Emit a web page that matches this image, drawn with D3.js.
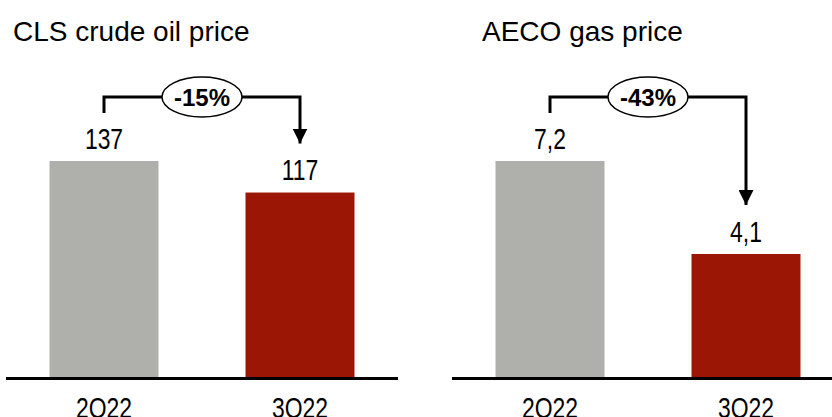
<!DOCTYPE html>
<html>
<head>
<meta charset="utf-8">
<script src="https://cdn.jsdelivr.net/npm/d3@7"></script>
<style>
  body { margin: 0; background: #fff; }
  svg { display: block; }
  text { font-family: "Liberation Sans", Arial, sans-serif; fill: #000; }
</style>
</head>
<body>
<div id="chart"></div>
<script>
// data
var quarters = ["2Q22", "3Q22"];
var oilPrice = [137, 117];
var gasPrice = [7.2, 4.1];
var oilChange = "-15%";
var gasChange = "-43%";
var titles = ["CLS crude oil price", "AECO gas price"];

var width = 832, height = 417;
var baseY = 377;      // bottom of bars
var topY = 161;       // top of tallest bar
var squeeze = 0.79;   // labels in the source are narrower than Arial

var svg = d3.select('#chart').append('svg')
    .attr('width', width)
    .attr('height', height);

var fmt = d3.formatLocale({decimal: ",", thousands: ".", grouping: [3], currency: ["", ""]});

var colors = ['#AFB0AB', '#9C1606'];

svg.append('defs').append('marker')
    .attr('id', 'arrow')
    .attr('viewBox', '0 0 10 10')
    .attr('refX', 10).attr('refY', 5)
    .attr('markerUnits', 'userSpaceOnUse')
    .attr('markerWidth', 15).attr('markerHeight', 15)
    .attr('orient', 'auto')
  .append('path')
    .attr('d', 'M0,0 L10,5 L0,10 Z')
    .attr('fill', '#000');

function panel(x0, title, titleX, values, change, labelFmt) {
    var g = svg.append('g');

    var x = d3.scaleBand()
        .domain(quarters)
        .range([x0, x0 + 392])
        .paddingInner(0.444)
        .paddingOuter(0.222);

    var y = d3.scaleLinear()
        .domain([0, d3.max(values)])
        .range([baseY, topY]);

    var mid = function(q) { return x(q) + x.bandwidth() / 2; };

    g.append('text')
        .attr('x', titleX)
        .attr('y', 41)
        .style('font-size', '28px')
        .text(title);

    g.selectAll('rect')
        .data(values)
        .enter().append('rect')
            .attr('x', function(d, i) { return x(quarters[i]); })
            .attr('y', function(d) { return y(d); })
            .attr('width', x.bandwidth())
            .attr('height', function(d) { return baseY - y(d); })
            .attr('fill', function(d, i) { return colors[i]; });

    g.selectAll('.val')
        .data(values)
        .enter().append('text')
            .attr('class', 'val')
            .attr('transform', function(d, i) {
                return 'translate(' + mid(quarters[i]) + ',' + (y(d) - 12.5) + ') scale(' + squeeze + ',1)';
            })
            .attr('text-anchor', 'middle')
            .style('font-size', '29px')
            .text(function(d) { return labelFmt(d); });

    // baseline
    g.append('line')
        .attr('x1', x0).attr('x2', x0 + 392)
        .attr('y1', baseY + 1.5).attr('y2', baseY + 1.5)
        .attr('stroke', '#000')
        .attr('stroke-width', 3);

    g.selectAll('.cat')
        .data(quarters)
        .enter().append('text')
            .attr('class', 'cat')
            .attr('transform', function(d) {
                return 'translate(' + mid(d) + ',418) scale(' + squeeze + ',1)';
            })
            .attr('text-anchor', 'middle')
            .style('font-size', '29px')
            .text(function(d) { return d; });

    // change bracket
    var xa = mid(quarters[0]);
    var xb = mid(quarters[1]);
    var yTop = 97;
    g.append('path')
        .attr('d', 'M' + xa + ',' + (y(values[0]) - 48) + ' V' + yTop + ' H' + xb + ' V' + (y(values[1]) - 49))
        .attr('fill', 'none')
        .attr('stroke', '#000')
        .attr('stroke-width', 3)
        .attr('marker-end', 'url(#arrow)');

    var cx = (xa + xb) / 2;
    g.append('ellipse')
        .attr('cx', cx).attr('cy', yTop)
        .attr('rx', 40).attr('ry', 20)
        .attr('fill', '#fff')
        .attr('stroke', '#000')
        .attr('stroke-width', 1.5);

    g.append('text')
        .attr('x', cx).attr('y', yTop + 9)
        .attr('text-anchor', 'middle')
        .style('font-size', '24px')
        .style('font-weight', 'bold')
        .text(change);
}

panel(6, titles[0], 13, oilPrice, oilChange, function(d) { return d3.format('d')(d); });
panel(452, titles[1], 482, gasPrice, gasChange, function(d) { return fmt.format('.1f')(d); });
</script>
</body>
</html>
